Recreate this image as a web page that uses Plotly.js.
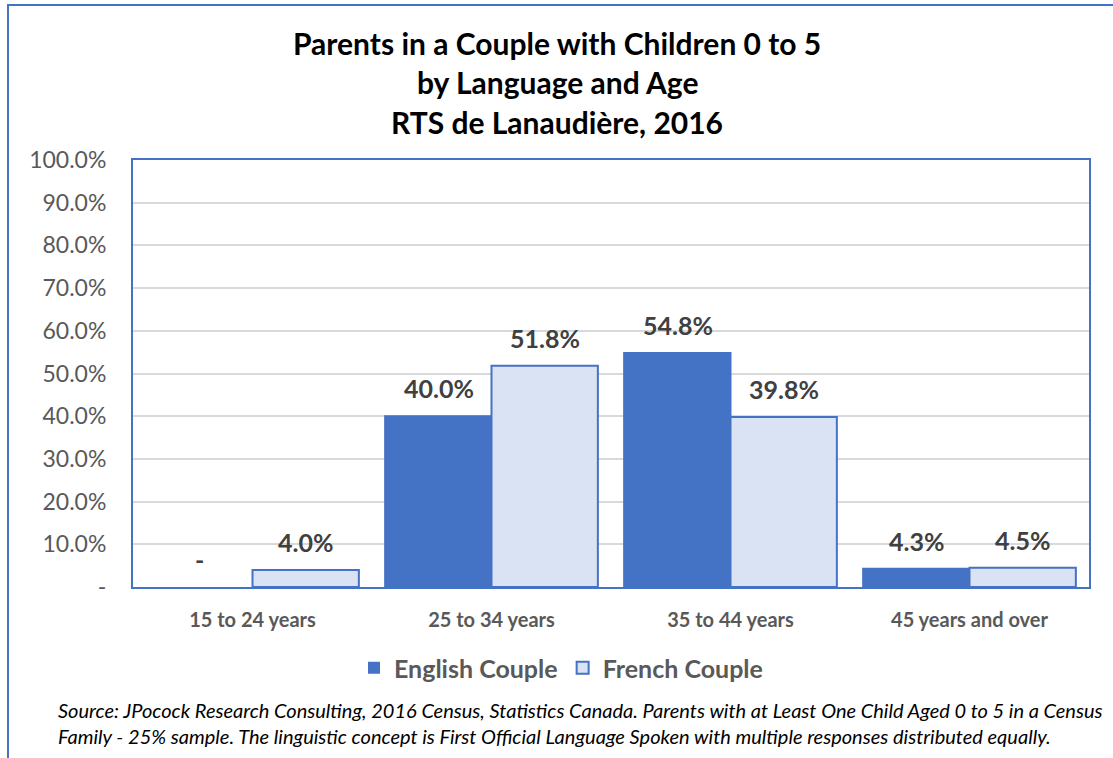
<!DOCTYPE html>
<html>
<head>
<meta charset="utf-8">
<script src="https://cdn.plot.ly/plotly-3.0.1.min.js"></script>
<style>html,body{margin:0;padding:0;background:#fff;}#chart{width:1113px;height:758px;}</style>
</head>
<body>
<div id="chart"></div>
<script>
const categories = ["15 to 24 years", "25 to 34 years", "35 to 44 years", "45 years and over"];
const englishCouple = [0.0, 0.400, 0.548, 0.043];
const frenchCouple = [0.040, 0.518, 0.398, 0.045];
const seriesNames = ["English Couple", "French Couple"];
const yTickVals = [0, 0.1, 0.2, 0.3, 0.4, 0.5, 0.6, 0.7, 0.8, 0.9, 1.0];
const yTickText = ["-", "10.0%", "20.0%", "30.0%", "40.0%", "50.0%", "60.0%", "70.0%", "80.0%", "90.0%", "100.0%"];
const titleLines = ["Parents in a Couple with Children 0 to 5", "by Language and Age", "RTS de Lanaudière, 2016"];
const sourceNote = "Source: JPocock Research Consulting, 2016 Census, Statistics Canada. Parents with at Least One Child Aged 0 to 5 in a Census<br>Family - 25% sample. The linguistic concept is First Official Language Spoken with multiple responses distributed equally.";

const FONT = "Lato, 'Open Sans', sans-serif";
const BLUE = "#4472C4";
const LIGHT = "#DAE3F3";

function fmt(v) { return v === 0 ? "-" : (v * 100).toFixed(1) + "%"; }

const traces = [
  {type: "bar", name: seriesNames[0], x: categories, y: englishCouple,
   marker: {color: BLUE, line: {color: BLUE, width: englishCouple.map(v => v === 0 ? 0 : 2)}}, hoverinfo: "none"},
  {type: "bar", name: seriesNames[1], x: categories, y: frenchCouple,
   marker: {color: LIGHT, line: {color: BLUE, width: frenchCouple.map(v => v === 0 ? 0 : 2)}}, hoverinfo: "none"}
];

const annotations = [];
const barHalf = 53;
[englishCouple, frenchCouple].forEach((arr, s) => {
  arr.forEach((v, i) => {
    annotations.push({
      x: categories[i], y: v, xref: "x", yref: "y",
      text: "<b>" + fmt(v) + "</b>", showarrow: false,
      xshift: s === 0 ? -barHalf : barHalf, yshift: 28,
      yanchor: "middle", xanchor: "center",
      font: {family: FONT, size: 25, color: "#404040"}
    });
  });
});

const plotL = 133, plotR = 1089, plotT = 160, plotB = 587;
const pw = plotR - plotL, ph = plotB - plotT;
const px = x => (x - plotL) / pw;
const py = y => (plotB - y) / ph;

const titleY = [43, 82, 122];
titleLines.forEach((t, i) => {
  annotations.push({
    xref: "paper", yref: "paper", x: px(557), y: py(titleY[i]),
    xanchor: "center", yanchor: "middle", showarrow: false,
    text: "<b>" + t + "</b>",
    font: {family: FONT, size: 30, color: "#000000"}
  });
});

annotations.push({
  xref: "paper", yref: "paper", x: px(56), y: py(723),
  xanchor: "left", yanchor: "middle", align: "left", showarrow: false,
  text: "<i>" + sourceNote + "</i>",
  font: {family: FONT, size: 20, color: "#000000"}
});

const layout = {
  width: 1113, height: 758,
  margin: {l: plotL, r: 1113 - plotR, t: plotT, b: 758 - plotB, pad: 0},
  paper_bgcolor: "#ffffff", plot_bgcolor: "#ffffff",
  barmode: "group", bargap: 0.11, bargroupgap: 0,
  showlegend: true,
  legend: {orientation: "h", x: px(561), xanchor: "center", y: py(645), yanchor: "top",
    font: {family: FONT, size: 25, color: "#595959", weight: "bold"}, traceorder: "normal"},
  xaxis: {type: "category", showline: true, mirror: true, linecolor: BLUE, linewidth: 2,
    showgrid: false, ticks: "", ticklabelstandoff: 14,
    tickfont: {family: FONT, size: 20, color: "#595959", weight: "bold"}, fixedrange: true},
  yaxis: {range: [0, 1], tickvals: yTickVals, ticktext: yTickText,
    showline: true, mirror: true, linecolor: BLUE, linewidth: 2,
    showgrid: true, gridcolor: "#d9d9d9", gridwidth: 2, zeroline: false,
    ticks: "", ticklabelstandoff: 20,
    tickfont: {family: FONT, size: 23, color: "#595959"}, fixedrange: true},
  annotations: annotations,
  shapes: [{type: "rect", xref: "paper", yref: "paper",
    x0: px(8), x1: px(1130), y0: py(790), y1: py(5),
    line: {color: BLUE, width: 2}, fillcolor: "rgba(0,0,0,0)", layer: "above"}],
  font: {family: FONT}
};

Plotly.newPlot("chart", traces, layout, {displayModeBar: false, staticPlot: true});
</script>
</body>
</html>
